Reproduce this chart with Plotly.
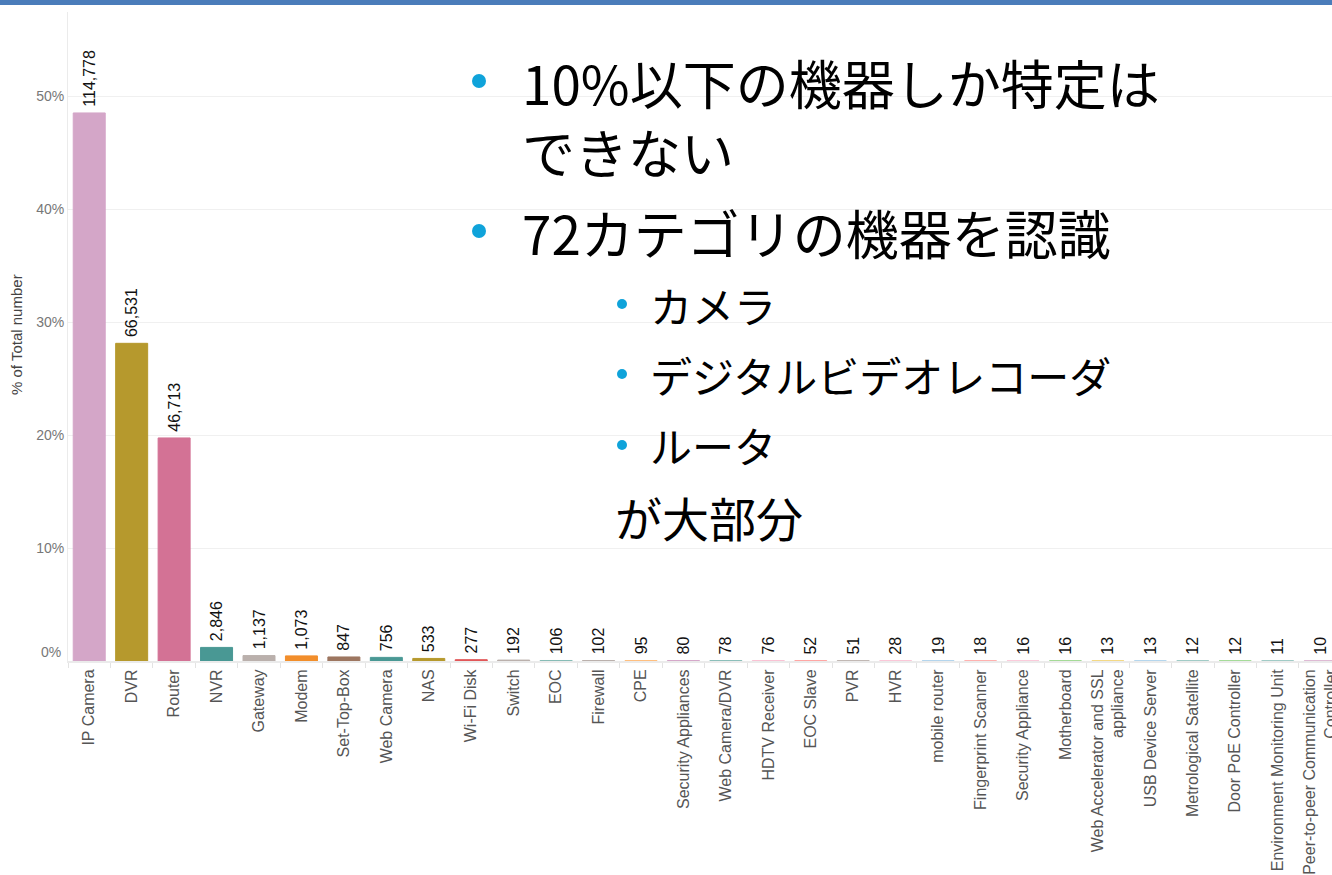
import plotly.graph_objects as go

# ---------------- data ----------------
categories = [
    "IP Camera", "DVR", "Router", "NVR", "Gateway", "Modem", "Set-Top-Box",
    "Web Camera", "NAS", "Wi-Fi Disk", "Switch", "EOC", "Firewall", "CPE",
    "Security Appliances", "Web Camera/DVR", "HDTV Receiver", "EOC Slave", "PVR",
    "HVR", "mobile router", "Fingerprint Scanner", "Security Appliance",
    "Motherboard", "Web Accelerator and SSL<br>appliance", "USB Device Server",
    "Metrological Satellite", "Door PoE Controller", "Environment Monitoring Unit",
    "Peer-to-peer Communication<br>Controller",
]
device_counts = [
    114778, 66531, 46713, 2846, 1137, 1073, 847, 756, 533, 277, 192, 106, 102, 95,
    80, 78, 76, 52, 51, 28, 19, 18, 16, 16, 13, 13, 12, 12, 11, 10,
]
bar_colors = [
    "#d4a6c8", "#b6992d", "#d37295", "#499894", "#bab0ac", "#f28e2b", "#9d7660",
    "#499894", "#b6992d", "#e15759", "#bab0ac", "#86bcb6", "#bab0ac", "#ffbe7d",
    "#d4a6c8", "#86bcb6", "#fabfd2", "#ff9d9a", "#bab0ac", "#fabfd2", "#a0cbe8",
    "#ff9d9a", "#fabfd2", "#8cd17d", "#f1ce63", "#a0cbe8", "#86bcb6", "#8cd17d",
    "#86bcb6", "#d4a6c8",
]
# total over all 72 categories (the rest are off-chart); estimated from the 48.5% IP Camera bar
total_devices = 236650
y_tick_values = [0, 10, 20, 30, 40, 50]

percent_of_total = [c / total_devices * 100 for c in device_counts]
value_labels = [f"\u2009{c:,}" for c in device_counts]

# ---------------- layout geometry ----------------
W, H = 1332, 875
ML, MR, MT, MB = 68, 0, 12, 214
PW, PH = W - ML - MR, H - MT - MB


def px(x):
    return (x - ML) / PW


def py(y):
    return (H - MB - y) / PH


chart_font = "Liberation Sans, Arial, sans-serif"
jp_font = "Noto Sans CJK JP, sans-serif"

fig = go.Figure()
fig.add_trace(go.Bar(
    x=categories,
    y=percent_of_total,
    marker=dict(color=bar_colors, line=dict(color=bar_colors, width=1)),
    text=value_labels,
    textposition="outside",
    textangle=-90,
    constraintext="none",
    cliponaxis=False,
    textfont=dict(family=chart_font, size=16, color="#111111"),
    hoverinfo="skip",
))

fig.update_layout(
    width=W, height=H,
    margin=dict(l=ML, r=MR, t=MT, b=MB, pad=0),
    paper_bgcolor="white", plot_bgcolor="white",
    template="none",
    showlegend=False,
    bargap=0.246,
    font=dict(family=chart_font),
    xaxis=dict(
        type="category",
        range=[-0.5, 29.28],
        tickangle=-90,
        tickfont=dict(family=chart_font, size=16, color="#555555"),
        ticks="outside", tickson="boundaries", ticklen=5,
        tickcolor="#e3e3e3", tickwidth=1,
        showline=True, linecolor="#ebebeb", linewidth=2,
        showgrid=False, zeroline=False, automargin=False,
    ),
    yaxis=dict(
        range=[0, (H - MB - MT) / 11.3],
        tickvals=y_tick_values,
        ticktext=["" if v == 0 else f"{v}%" for v in y_tick_values],
        tickfont=dict(family=chart_font, size=14, color="#777777"),
        ticks="", showgrid=True, gridcolor="#f0f0f0", gridwidth=1,
        showline=True, linecolor="#ebebeb", linewidth=1,
        zeroline=False, automargin=False,
    ),
)

# top blue stripe
fig.add_shape(type="rect", xref="paper", yref="paper",
              x0=px(0), x1=px(W + 2), y0=py(5), y1=py(-2),
              fillcolor="#4a7cba", line=dict(width=0), layer="above")

annotations = []
# 0% tick label (Tableau nudges it up)
annotations.append(dict(text="0%", x=px(63), y=py(652), xref="paper", yref="paper",
                        xanchor="right", yanchor="middle", showarrow=False,
                        font=dict(family=chart_font, size=14, color="#777777")))
# y-axis title
annotations.append(dict(text="% of Total number", x=px(17), y=py(335),
                        xref="paper", yref="paper", textangle=-90,
                        xanchor="center", yanchor="middle", showarrow=False,
                        font=dict(family=chart_font, size=15, color="#444444")))

# Japanese overlay text: (text, left x px, centre y px, font size)
overlay_lines = [
    ("10%以下の機器しか特定は<br>できない", 520, 116, 53),
    ("72カテゴリの機器を認識", 520, 232, 53),
    ("カメラ", 648, 304, 42),
    ("デジタルビデオレコーダ", 648, 374, 42),
    ("ルータ", 648, 445, 42),
    ("が大部分", 613, 516, 47),
]
for txt, x, y, size in overlay_lines:
    annotations.append(dict(text=txt, x=px(x), y=py(y), xref="paper", yref="paper",
                            xanchor="left", yanchor="middle", align="left",
                            showarrow=False,
                            font=dict(family=jp_font, size=size, color="#000000")))
fig.update_layout(annotations=annotations)

# bullets
bullets = [(479, 81, 7), (479, 231, 7), (622, 304, 5), (622, 374, 5), (622, 445, 5)]
for bx, by, r in bullets:
    fig.add_shape(type="circle", xref="paper", yref="paper",
                  x0=px(bx - r), x1=px(bx + r), y0=py(by + r), y1=py(by - r),
                  fillcolor="#0fa3da", line=dict(width=0), layer="above")

fig.write_html("out.html", config={"displayModeBar": False})
